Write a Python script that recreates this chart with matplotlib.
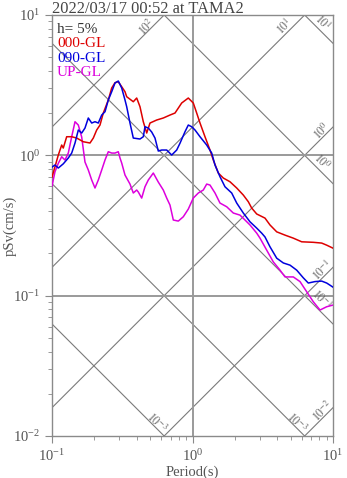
import numpy as np
import matplotlib
matplotlib.use("Agg")
import matplotlib.pyplot as plt

plt.rcParams['font.family'] = ['Liberation Serif', 'DejaVu Serif']
plt.rcParams['mathtext.fontset'] = 'stix'

title = "2022/03/17 00:52 at TAMA2"
damping_label = "h= 5%"
series_names = ["000-GL", "090-GL", "UP-GL"]

# 000-GL
ns_period = [0.100, 0.105, 0.1109, 0.1172, 0.1203, 0.1272, 0.1381, 0.1499, 0.1670, 0.1864,
             0.1968, 0.2080, 0.2196, 0.2318, 0.2516, 0.2660, 0.2808, 0.2963, 0.3134, 0.3308,
             0.3401, 0.3790, 0.4007, 0.4229, 0.4465, 0.4721, 0.4983, 0.5560, 0.6196, 0.6916,
             0.7508, 0.8377, 0.9335, 1.013, 1.071, 1.131, 1.227, 1.332, 1.406, 1.526,
             1.657, 1.849, 2.064, 2.300, 2.496, 2.638, 2.864, 3.281, 3.561, 3.975,
             4.555, 5.217, 5.987, 7.240, 8.311, 9.021, 10.0]
ns_psv = [0.700, 0.829, 1.005, 1.184, 1.127, 1.357, 1.357, 1.328, 1.250, 1.224,
          1.328, 1.515, 1.644, 2.002, 2.479, 3.018, 3.292, 3.346, 3.083, 2.840,
          2.617, 2.410, 2.561, 2.221, 1.736, 1.442, 1.699, 1.785, 1.845, 1.937,
          2.002, 2.360, 2.561, 2.360, 2.002, 1.699, 1.357, 1.091, 0.926, 0.748,
          0.689, 0.648, 0.585, 0.521, 0.467, 0.421, 0.382, 0.357, 0.319, 0.285,
          0.270, 0.257, 0.242, 0.240, 0.237, 0.229, 0.218]

# 090-GL
ew_period = [0.100, 0.105, 0.1109, 0.1203, 0.1306, 0.1381, 0.1458, 0.1539, 0.1627, 0.1717,
             0.1813, 0.1917, 0.2023, 0.2136, 0.2258, 0.2384, 0.2516, 0.2660, 0.2808, 0.2963,
             0.3134, 0.3308, 0.3401, 0.3590, 0.3790, 0.4229, 0.4465, 0.4590, 0.4846, 0.5124,
             0.5408, 0.5708, 0.6036, 0.6552, 0.7112, 0.7720, 0.8147, 0.8843, 0.9335, 0.9870,
             1.042, 1.131, 1.262, 1.370, 1.446, 1.569, 1.703, 1.901, 2.064, 2.300,
             2.566, 2.864, 3.108, 3.281, 3.561, 3.975, 4.431, 4.943, 5.516, 6.146,
             6.672, 7.445, 8.311, 9.021, 10.0]
ew_psv = [0.825, 0.853, 0.812, 0.870, 0.957, 1.038, 1.224, 1.515, 1.442, 1.565,
          1.845, 1.699, 1.736, 1.699, 1.937, 2.046, 2.479, 2.840, 3.276, 3.385,
          3.018, 2.479, 2.221, 1.699, 1.328, 1.307, 1.357, 1.599, 1.565, 1.466,
          1.328, 1.073, 1.091, 1.091, 1.005, 1.091, 1.220, 1.473, 1.644, 1.599,
          1.515, 1.357, 1.184, 1.038, 0.853, 0.704, 0.597, 0.539, 0.457, 0.388,
          0.336, 0.303, 0.279, 0.262, 0.223, 0.185, 0.171, 0.165, 0.152, 0.134,
          0.123, 0.126, 0.127, 0.123, 0.115]

# UP-GL
ud_period = [0.100, 0.105, 0.1109, 0.1172, 0.1237, 0.1306, 0.1381, 0.1458, 0.1539, 0.1627,
             0.1717, 0.1813, 0.1917, 0.2023, 0.2136, 0.2258, 0.2384, 0.2516, 0.2660, 0.2808,
             0.2963, 0.3048, 0.3134, 0.3308, 0.3590, 0.3790, 0.4007, 0.4113, 0.4348, 0.4590,
             0.4846, 0.5260, 0.5708, 0.6196, 0.6552, 0.6916, 0.7302, 0.7925, 0.8600, 0.9335,
             1.013, 1.100, 1.194, 1.262, 1.332, 1.446, 1.569, 1.752, 1.952, 2.178,
             2.364, 2.566, 2.864, 3.023, 3.374, 3.759, 4.197, 4.555, 5.217, 5.823,
             6.499, 7.240, 8.083, 9.021, 10.0]
ud_psv = [0.604, 0.764, 0.877, 0.977, 0.926, 1.038, 1.357, 1.736, 1.644, 1.350,
          0.896, 0.786, 0.667, 0.585, 0.667, 0.786, 0.926, 1.061, 1.038, 1.038,
          1.061, 0.957, 0.881, 0.724, 0.624, 0.539, 0.566, 0.548, 0.496, 0.597,
          0.667, 0.748, 0.645, 0.566, 0.496, 0.442, 0.346, 0.340, 0.365, 0.414,
          0.496, 0.539, 0.566, 0.624, 0.614, 0.539, 0.457, 0.430, 0.388, 0.375,
          0.346, 0.319, 0.279, 0.257, 0.211, 0.174, 0.152, 0.136, 0.136, 0.126,
          0.1066, 0.0905, 0.0790, 0.0834, 0.0857]

# tripartite grid values
sa_values = [1e-2, 1e-1, 1e0, 1e1, 1e2]       # acceleration (cm/s^2)
sd_values = [1e-3, 1e-2, 1e-1, 1e0, 1e1]      # displacement (cm)
sa_labels = ["$10^{-2}$", "$10^{-1}$", "$10^{0}$", "$10^{1}$", "$10^{2}$"]
sd_labels = ["$10^{-3}$", "$10^{-3}$", "$10^{-1}$", "$10^{0}$", "$10^{1}$"]
sa_label_pos = [(8.5, 0.01505), (8.5, 0.152), (8.35, 1.49), (4.555, 8.21), (0.474, 8.21)]
sd_label_pos = [(0.559, 0.0125), (5.54, 0.0125), (8.3, 0.093), (8.3, 0.896), (8.35, 8.77)]

fig = plt.figure(figsize=(3.47, 4.78), dpi=100)
ax = fig.add_axes([52/347, 42/478, 281/347, 421/478])
ax.set_xscale('log')
ax.set_yscale('log')
ax.set_xlim(0.1, 10)
ax.set_ylim(0.01, 10)

diag_col = '#7a7a7a'
T = np.logspace(-1, 1, 200)
for sa in sa_values:
    ax.plot(T, sa * T / (2 * np.pi), color=diag_col, lw=0.8, zorder=1)
for sd in sd_values:
    ax.plot(T, 2 * np.pi * sd / T, color=diag_col, lw=0.8, zorder=1)

for lab, (px, py) in zip(sa_labels, sa_label_pos):
    ax.text(px, py, lab, rotation=45, ha='center', va='center', fontsize=8.5,
            color='#666666', zorder=2)
for lab, (px, py) in zip(sd_labels, sd_label_pos):
    ax.text(px, py, lab, rotation=-45, ha='center', va='center', fontsize=8.5,
            color='#666666', zorder=2)

grid_col = '#9a9a9a'
ax.axvline(1.0, color=grid_col, lw=1.4, zorder=1)
for yv in [1.0, 0.1]:
    ax.axhline(yv, color=grid_col, lw=1.4, zorder=1)

ax.plot(ns_period, ns_psv, color='#dd0000', lw=1.1, zorder=4)
ax.plot(ew_period, ew_psv, color='#0000dd', lw=1.1, zorder=4)
ax.plot(ud_period, ud_psv, color='#dd00dd', lw=1.1, zorder=3)

for s in ax.spines.values():
    s.set_color('#8a8a8a')
    s.set_linewidth(1.0)
ax.tick_params(which='both', direction='out', colors='#8a8a8a', labelcolor='#555555',
               labelsize=10.5)
ax.tick_params(which='major', length=5)
ax.tick_params(which='minor', length=3)

ax.set_xlabel("Period(s)", color='#555555', fontsize=10.5, labelpad=1)
ax.set_ylabel("pSv(cm/s)", color='#555555', fontsize=10.5, va='center')
ax.yaxis.set_label_coords(-42 / 281, 0.5)

fig.text(52/347, 1 - 1/478, title, ha='left', va='top', fontsize=11.8, color='#444444')

ax.text(0.018, 0.9667, damping_label, transform=ax.transAxes, ha='left', va='center',
        fontsize=11, color='#333333')
cols = ['#dd0000', '#0000dd', '#dd00dd']
for i, (nm, c) in enumerate(zip(series_names, cols)):
    ax.text(0.018, 0.9667 - (i + 1) * 0.0345, nm, transform=ax.transAxes, ha='left',
            va='center', fontsize=11, color=c)

fig.savefig("out.png", dpi=100)
